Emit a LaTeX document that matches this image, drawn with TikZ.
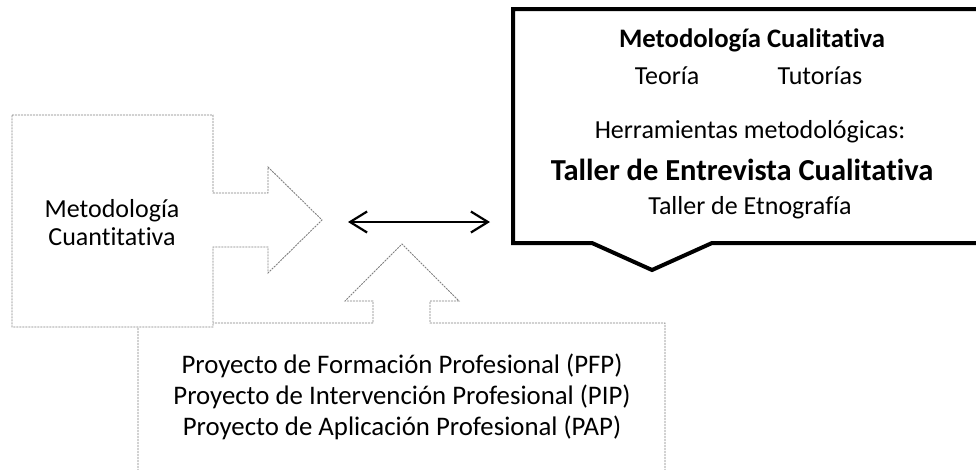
\documentclass[tikz,border=0pt]{standalone}
\usepackage{fontspec}
\setmainfont{Carlito}[RawFeature=-liga]
\usetikzlibrary{arrows.meta}
\tikzset{
  dashshape/.style={draw=black!50, line width=0.9pt, dash pattern=on 2pt off 1pt, fill=white, line join=miter},
  callout/.style={draw=black, line width=4pt, fill=white, line join=miter},
  txt/.style={font=\fontsize{26}{30}\selectfont, inner sep=0pt, anchor=base},
  bottxt/.style={font=\fontsize{26.8}{30}\selectfont, inner sep=0pt, anchor=base},
  headtxt/.style={font=\fontsize{26.7}{30}\selectfont\bfseries, inner sep=0pt, anchor=base},
  boldtxt/.style={font=\fontsize{30.5}{34}\selectfont\bfseries, inner sep=0pt, anchor=base},
  link/.style={line width=2pt, {Straight Barb[length=17pt,width=21pt,line width=2.2pt]}-{Straight Barb[length=17pt,width=21pt,line width=2.2pt]}}
}
\begin{document}
\begin{tikzpicture}[x=1pt,y=-1pt]
\useasboundingbox (0,0) rectangle (976,469);
\clip (0,0) rectangle (976,469);
% bottom up-arrow callout
\draw[dashshape] (138,480) -- (138,323) -- (373,323) -- (373,301) -- (345,301) -- (402,244) -- (459,301) -- (430,301) -- (430,323) -- (665,323) -- (665,480);
% left right-arrow callout
\draw[dashshape] (12,115) -- (213,115) -- (213,193) -- (268,193) -- (268,167) -- (322,220) -- (268,273) -- (268,247) -- (213,247) -- (213,327) -- (12,327) -- cycle;
% right callout
\draw[callout] (513,9) -- (995,9) -- (995,243) -- (712,243) -- (652,270) -- (592,243) -- (513,243) -- cycle;
% texts
\node[txt] (q1) at (112,217) {Metodología};
\node[txt] (q2) at (112,245) {Cuantitativa};
\node[headtxt] (c1) at (752,47) {Metodología Cualitativa};
\node[txt] (c2) at (667,84) {Teoría};
\node[txt] (c3) at (820,84) {Tutorías};
\node[txt] (c4) at (750,138) {Herramientas metodológicas:};
\node[boldtxt] (c5) at (742,180) {Taller de Entrevista Cualitativa};
\node[txt] (c6) at (750,214) {Taller de Etnografía};
\node[bottxt] (p1) at (402,373) {Proyecto de Formación Profesional (PFP)};
\node[bottxt] (p2) at (402,404) {Proyecto de Intervención Profesional (PIP)};
\node[bottxt] (p3) at (402,435) {Proyecto de Aplicación Profesional (PAP)};
% double arrow
\coordinate (la) at (348,222);
\coordinate (ra) at (490,222);
\draw[link] (la) -- (ra);
\end{tikzpicture}
\end{document}
